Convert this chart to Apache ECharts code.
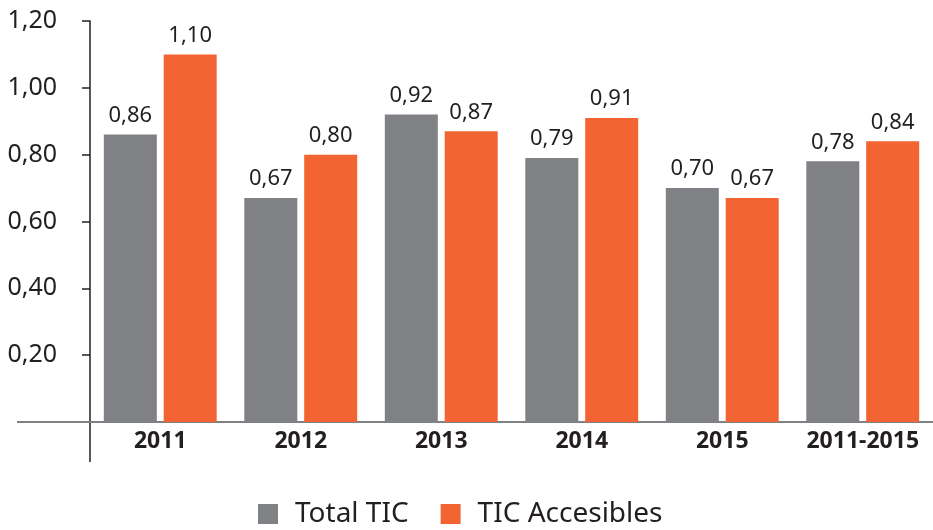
<!DOCTYPE html>
<html>
<head>
<meta charset="utf-8">
<script src="https://cdn.jsdelivr.net/npm/echarts@6/dist/echarts.min.js"></script>
<style>
  html, body { margin: 0; padding: 0; background: #fff; }
  #charts { width: 933px; height: 530px; }
</style>
</head>
<body>
<div id="charts"></div>
<script>
    // datos del gráfico
    var categories = ['2011', '2012', '2013', '2014', '2015', '2011-2015'];
    var totalTic = [0.86, 0.67, 0.92, 0.79, 0.70, 0.78];
    var ticAccesibles = [1.10, 0.80, 0.87, 0.91, 0.67, 0.84];
    var seriesNames = ['Total TIC', 'TIC Accesibles'];

    var fontName = '"Noto Sans", "Open Sans", sans-serif';
    var gridLeft = 90, gridTop = 21, gridBottom = 108;

    function coma(v) {
        return v.toFixed(2).replace('.', ',');
    }

    var myChart = echarts.init(document.getElementById('charts'));

    var labelCfg = {
        show: true,
        position: 'top',
        distance: 8,
        fontFamily: fontName,
        fontSize: 22,
        color: '#231f20',
        formatter: function (p) { return coma(p.value); }
    };

    var option = {
        animation: false,
        textStyle: { fontFamily: fontName },
        legend: {
            data: seriesNames,
            bottom: -3,
            left: 253,
            itemWidth: 20,
            itemHeight: 20,
            itemGap: 32,
            icon: 'rect',
            textStyle: { fontSize: 28, color: '#231f20', padding: [0, 0, 0, 12] }
        },
        grid: {
            left: gridLeft,
            right: 0,
            top: gridTop,
            bottom: gridBottom,
            containLabel: false
        },
        xAxis: {
            type: 'category',
            data: categories,
            axisLine: { lineStyle: { color: '#808184', width: 2 } },
            axisTick: { show: false },
            axisLabel: {
                interval: 0,
                hideOverlap: false,
                fontSize: 23,
                fontWeight: 'bold',
                color: '#231f20',
                margin: 8
            }
        },
        yAxis: {
            type: 'value',
            min: 0,
            max: 1.2,
            interval: 0.2,
            splitLine: { show: false },
            axisLine: { show: true, lineStyle: { color: '#231f20', width: 1.5 } },
            axisTick: { show: true, length: 8, lineStyle: { color: '#231f20', width: 1.5 } },
            axisLabel: {
                fontSize: 25,
                color: '#231f20',
                margin: 33,
                showMinLabel: false,
                formatter: function (v) { return v === 0 ? '' : coma(v); }
            }
        },
        series: [{
            name: seriesNames[0],
            type: 'bar',
            data: totalTic,
            barWidth: 53,
            barGap: '13%',
            itemStyle: { color: '#808184' },
            label: labelCfg
        }, {
            name: seriesNames[1],
            type: 'bar',
            data: ticAccesibles,
            barWidth: 53,
            barGap: '13%',
            itemStyle: { color: '#f26532' },
            label: labelCfg
        }],
        // prolongaciones de los ejes
        graphic: [{
            type: 'line',
            shape: { x1: gridLeft, y1: 530 - gridBottom, x2: gridLeft, y2: 530 - gridBottom + 40 },
            style: { stroke: '#231f20', lineWidth: 1.5 }
        }, {
            type: 'line',
            shape: { x1: 17, y1: 530 - gridBottom, x2: gridLeft, y2: 530 - gridBottom },
            style: { stroke: '#808184', lineWidth: 2 }
        }]
    };

    myChart.setOption(option);
</script>
</body>
</html>
